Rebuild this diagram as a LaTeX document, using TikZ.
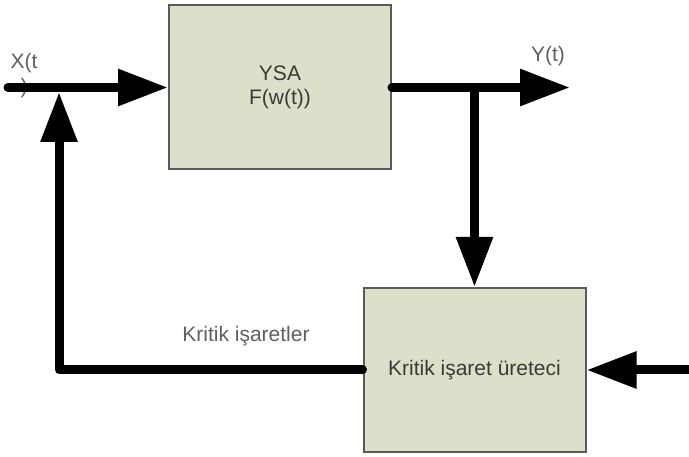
\documentclass[tikz,border=0pt]{standalone}
\usepackage{fontspec}
\setmainfont{Liberation Sans}
\usetikzlibrary{arrows.meta}
\definecolor{boxfill}{RGB}{220,223,201}
\definecolor{boxline}{RGB}{90,90,90}
\definecolor{boxtext}{RGB}{58,58,58}
\definecolor{labeltext}{RGB}{95,95,95}
\tikzset{
  block/.style={draw=boxline, line width=2pt, fill=boxfill, text=boxtext,
    align=center, font=\fontsize{21}{24}\selectfont, inner sep=0pt},
  lbl/.style={text=labeltext, align=center, font=\fontsize{21}{25}\selectfont, inner sep=0pt},
  flow/.style={line width=9pt, line cap=round, line join=round},
  tip/.style={-{Triangle[length=50pt,width=35pt]}}
}
\begin{document}
\begin{tikzpicture}[x=1pt, y=-1pt]
  \useasboundingbox (0,0) rectangle (689,457);

  % blocks
  \node[block, minimum width=222pt, minimum height=164pt] (ysa) at (280,87.5) {YSA\\F(w(t))};
  \node[block, minimum width=222pt, minimum height=164pt] (gen) at (474.5,370) {Kritik işaret üreteci};

  % labels
  \node[lbl] (xl) at (24,76) {X(t\\)};
  \node[lbl] (yl) at (548,56) {Y(t)};
  \node[lbl] (fl) at (246,336) {Kritik işaretler};

  % connector end points
  \coordinate (xin) at (8,87.5);
  \coordinate (yout) at (570,87.5);
  \coordinate (br) at (474.5,87.5);
  \coordinate (fbtop) at (59,92);
  \coordinate (rin) at (689,370);

  % input to the network
  \draw[flow, tip] (xin) -- (ysa.west);
  % network output
  \draw[flow, tip] (ysa.east) -- (yout);
  % output branch down to the generator
  \draw[flow, tip] (br) -- (gen.north);
  % feedback of critical signals
  \draw[flow, tip] (gen.west) -| (fbtop);
  % outside input to the generator
  \draw[flow, tip, line cap=butt] (rin) -- (gen.east);
\end{tikzpicture}
\end{document}
